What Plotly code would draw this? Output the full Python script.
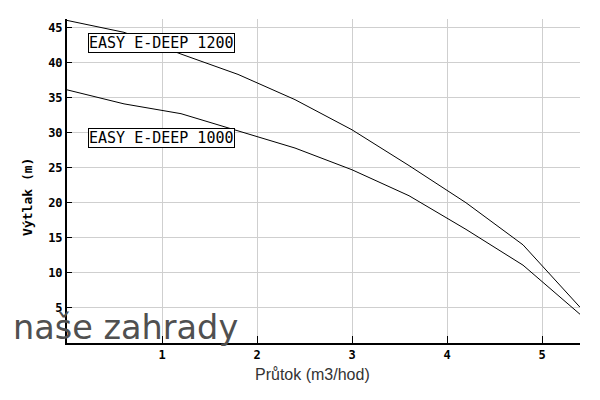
import plotly.graph_objects as go

flow = [0, 0.6, 1.2, 1.8, 2.4, 3.0, 3.6, 4.2, 4.8, 5.4]
head_1200 = [46.0, 44.3, 41.2, 38.3, 34.7, 30.4, 25.3, 20.0, 14.0, 5.1]
head_1000 = [36.1, 34.1, 32.7, 30.2, 27.8, 24.7, 21.0, 16.2, 11.1, 4.1]
series_names = ["EASY E-DEEP 1200", "EASY E-DEEP 1000"]
label_y = [42.8, 29.3]
x_ticks = [1, 2, 3, 4, 5]
y_ticks = [5, 10, 15, 20, 25, 30, 35, 40, 45]

fig = go.Figure()
for name, ys in zip(series_names, [head_1200, head_1000]):
    fig.add_trace(go.Scatter(x=flow, y=ys, mode="lines", name=name,
                             line=dict(color="black", width=1), showlegend=False))

mono = "DejaVu Sans Mono"
for name, ly in zip(series_names, label_y):
    fig.add_annotation(x=0.22, y=ly, xref="x", yref="y", text=name, showarrow=False,
                       xanchor="left", yanchor="middle",
                       font=dict(family=mono, size=15, color="black"),
                       bgcolor="white", bordercolor="black", borderwidth=1, borderpad=0)

fig.add_annotation(text="Průtok (m3/hod)", showarrow=False, xref="paper", yref="paper",
                   x=0.4776, y=-0.0957, xanchor="center", yanchor="middle",
                   font=dict(family="Liberation Sans", size=16, color="#333"))
fig.add_annotation(text="<b>Výtlak (m)</b>", textangle=-90, showarrow=False,
                   xref="paper", yref="paper", x=-0.076, y=0.451,
                   xanchor="center", yanchor="middle",
                   font=dict(family=mono, size=13, color="black"))
fig.add_annotation(text="naše zahrady", showarrow=False, xref="paper", yref="paper",
                   x=-0.109, y=0.048, xanchor="left", yanchor="middle",
                   font=dict(family="DejaVu Sans", size=33.5, color="#505050"))

fig.update_xaxes(range=[0, 5.4], tickvals=x_ticks, ticks="inside", ticklen=7,
                 tickcolor="black", showgrid=True, gridcolor="#cfcfcf", gridwidth=1,
                 showline=True, linecolor="black", linewidth=2, zeroline=False,
                 tickfont=dict(family=mono, size=12, color="black", weight="bold"))
fig.update_yaxes(range=[0, 46.2], tickvals=y_ticks, ticks="inside", ticklen=5,
                 tickcolor="black", showgrid=True, gridcolor="#cfcfcf", gridwidth=1,
                 showline=True, linecolor="black", linewidth=2, zeroline=False,
                 tickfont=dict(family=mono, size=12, color="black", weight="bold"))
# page body has an 8px default margin; size the figure so it fits the 600x400 window
fig.update_layout(width=592, height=384, plot_bgcolor="white", paper_bgcolor="white",
                  margin=dict(l=59, r=20, t=11, b=49), showlegend=False)
fig.write_html("out.html")
